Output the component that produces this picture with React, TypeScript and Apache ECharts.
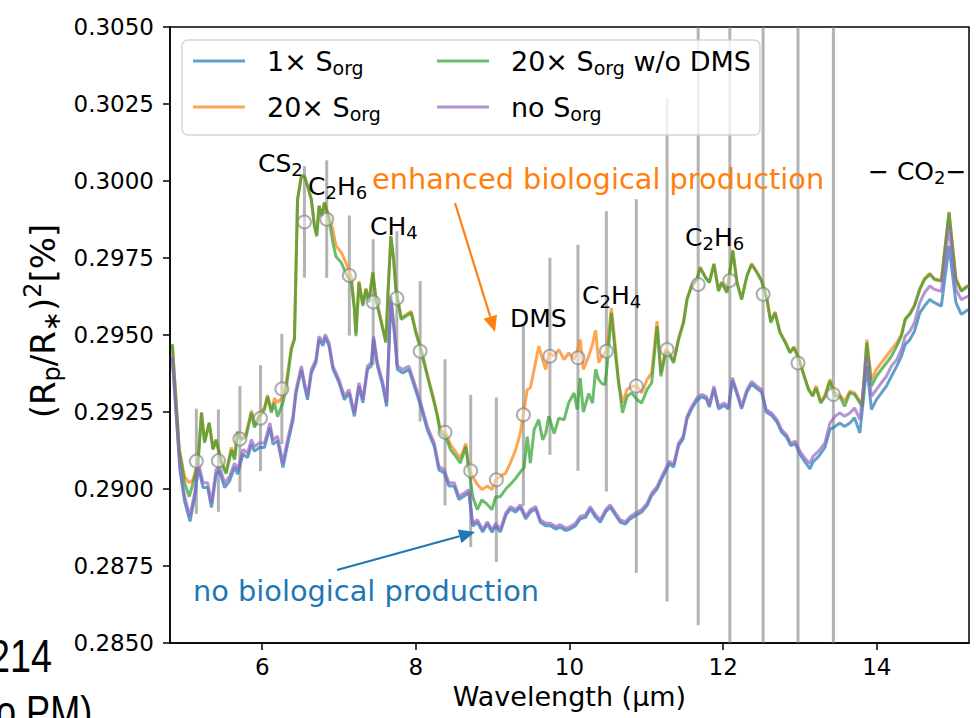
import React, { useEffect, useRef } from "react";
import * as echarts from "echarts";

// Wavelength grid shared by the 20x S_org curves (µm)
const wlEnhanced = [
  4.83, 4.92, 4.99, 5.05, 5.10, 5.165, 5.21, 5.25, 5.31, 5.36,
  5.40, 5.47, 5.53, 5.60, 5.64, 5.68, 5.73, 5.79, 5.86, 5.90,
  5.965, 6.03, 6.07, 6.12, 6.16, 6.20, 6.27, 6.31, 6.38, 6.42,
  6.46, 6.51, 6.55, 6.59, 6.64, 6.68, 6.71, 6.74, 6.78, 6.81,
  6.87, 6.92, 6.96, 7.03, 7.09, 7.16, 7.20, 7.22, 7.26, 7.31,
  7.35, 7.39, 7.44, 7.48, 7.55, 7.61, 7.64, 7.675, 7.71, 7.74,
  7.81, 7.87, 7.94, 8.00, 8.065, 8.15, 8.24, 8.28, 8.32, 8.39,
  8.45, 8.52, 8.58, 8.65, 8.69, 8.74, 8.80, 8.86, 8.93, 8.99,
  9.04, 9.10, 9.17, 9.23, 9.30, 9.36, 9.41, 9.45, 9.49, 9.54,
  9.60, 9.65, 9.69, 9.73, 9.80, 9.86, 9.93, 9.99, 10.06, 10.10,
  10.14, 10.18, 10.25, 10.30, 10.34, 10.38, 10.42, 10.46, 10.49, 10.545,
  10.60, 10.64, 10.69, 10.75, 10.81, 10.88, 10.94, 11.01, 11.07, 11.14,
  11.19, 11.25, 11.29, 11.355, 11.42, 11.485, 11.53, 11.59, 11.66, 11.70,
  11.77, 11.82, 11.88, 11.94, 11.98, 12.05, 12.125, 12.18, 12.24, 12.31,
  12.37, 12.44, 12.50, 12.57, 12.62, 12.675, 12.74, 12.81, 12.87, 12.92,
  12.98, 13.04, 13.11, 13.165, 13.21, 13.27, 13.325, 13.39, 13.455, 13.52,
  13.58, 13.65, 13.71, 13.78, 13.81, 13.87, 13.93, 13.995, 14.06, 14.125,
  14.19, 14.26, 14.32, 14.37, 14.43, 14.49, 14.56, 14.62, 14.69, 14.75,
  14.84, 14.94, 15.03, 15.10, 15.19,
];

// 20x S_org (orange)
const sorg20 = [
  0.2947, 0.2913, 0.2904, 0.2902, 0.2903, 0.2909, 0.29248, 0.29155, 0.29215, 0.2913,
  0.2916, 0.2909, 0.29055, 0.29135, 0.291, 0.29188, 0.29165, 0.29178, 0.29255, 0.29205,
  0.29245, 0.29265, 0.29305, 0.29255, 0.29295, 0.2928, 0.293, 0.2934, 0.2946, 0.2949,
  0.2994, 0.30016, 0.30016, 0.29984, 0.2994, 0.29856, 0.29825, 0.29919, 0.29886, 0.2993,
  0.29885, 0.29843, 0.2979, 0.29768, 0.29735, 0.2969, 0.2959, 0.29505, 0.29675, 0.296,
  0.29652, 0.2961, 0.29705, 0.2962, 0.29545, 0.2948, 0.2965, 0.29821, 0.29746, 0.2965,
  0.29555, 0.29566, 0.29577, 0.29512, 0.29458, 0.29372, 0.29285, 0.29242, 0.2919, 0.29182,
  0.29145, 0.2912, 0.291, 0.29148, 0.29065, 0.2904, 0.29015, 0.28998, 0.2901, 0.28998,
  0.2903, 0.29041, 0.29052, 0.29084, 0.29128, 0.29182, 0.29258, 0.29323, 0.29328, 0.29388,
  0.29464, 0.2942, 0.29388, 0.29442, 0.29431, 0.29453, 0.2942, 0.29442, 0.2942, 0.29445,
  0.29485, 0.29388, 0.29431, 0.2947, 0.29515, 0.2941, 0.29431, 0.2944, 0.29453, 0.29588,
  0.29453, 0.29345, 0.29279, 0.29323, 0.29334, 0.29334, 0.29312, 0.29355, 0.29377, 0.29545,
  0.29377, 0.29453, 0.29445, 0.29415, 0.2949, 0.29545, 0.29618, 0.29662, 0.29683, 0.29721,
  0.29688, 0.29672, 0.29732, 0.29645, 0.29672, 0.2964, 0.29776, 0.29672, 0.29618, 0.29694,
  0.29732, 0.29705, 0.29678, 0.29618, 0.29545, 0.29575, 0.2951, 0.29478, 0.29445, 0.29462,
  0.2943, 0.2938, 0.29326, 0.29304, 0.29335, 0.29283, 0.29305, 0.29356, 0.29312, 0.29305,
  0.29285, 0.29318, 0.29312, 0.29285, 0.2928, 0.29485, 0.29355, 0.29388, 0.2941, 0.29431,
  0.29453, 0.29475, 0.29502, 0.29553, 0.2957, 0.29597, 0.29651, 0.29683, 0.297, 0.29683,
  0.29678, 0.299, 0.29683, 0.29645, 0.29662,
];

// 20x S_org w/o DMS (green)
const sorg20NoDms = [
  0.2947, 0.29128, 0.2902, 0.28975, 0.2902, 0.29085, 0.29248, 0.2915, 0.29215, 0.29128,
  0.2916, 0.29085, 0.2905, 0.29128, 0.29095, 0.29183, 0.2916, 0.2917, 0.29248, 0.292,
  0.29235, 0.29258, 0.293, 0.29248, 0.2928, 0.29235, 0.2928, 0.29323, 0.29453, 0.29485,
  0.2994, 0.30016, 0.30016, 0.29984, 0.2994, 0.29854, 0.2982, 0.29919, 0.29886, 0.2993,
  0.29876, 0.298, 0.29755, 0.29735, 0.297, 0.2967, 0.29583, 0.29496, 0.2967, 0.29594,
  0.29648, 0.29605, 0.29702, 0.29615, 0.2954, 0.29475, 0.29648, 0.29821, 0.29746, 0.29648,
  0.2955, 0.29561, 0.29572, 0.29507, 0.29453, 0.29366, 0.29279, 0.29236, 0.29182, 0.2917,
  0.29128, 0.29106, 0.29084, 0.29138, 0.29063, 0.28976, 0.28933, 0.28965, 0.2895, 0.28933,
  0.28975, 0.28975, 0.29, 0.29015, 0.29035, 0.29055, 0.2907, 0.2917, 0.29084, 0.29193,
  0.29225, 0.2916, 0.2918, 0.29236, 0.2918, 0.2923, 0.29225, 0.2928, 0.29312, 0.29258,
  0.2936, 0.2925, 0.2931, 0.29279, 0.29388, 0.29355, 0.29343, 0.29339, 0.294, 0.29572,
  0.29431, 0.29345, 0.29247, 0.29301, 0.29312, 0.2929, 0.29279, 0.29323, 0.29345, 0.29529,
  0.29366, 0.29442, 0.29442, 0.29409, 0.29485, 0.2954, 0.29615, 0.29659, 0.2968, 0.29718,
  0.29686, 0.2967, 0.29729, 0.29642, 0.2967, 0.29637, 0.29773, 0.2967, 0.29615, 0.29691,
  0.29729, 0.29702, 0.29675, 0.29615, 0.2954, 0.29572, 0.29507, 0.29475, 0.29442, 0.29458,
  0.29426, 0.29377, 0.29323, 0.29301, 0.29328, 0.29279, 0.29298, 0.2935, 0.29301, 0.29301,
  0.29268, 0.29312, 0.29307, 0.29279, 0.29268, 0.29475, 0.29334, 0.29366, 0.29388, 0.29409,
  0.29431, 0.29464, 0.29496, 0.2955, 0.29567, 0.29594, 0.29648, 0.2968, 0.29697, 0.2968,
  0.29675, 0.29897, 0.2968, 0.29642, 0.29659,
];

// Wavelength grid shared by the no-biology curves (µm)
const wlBaseline = [
  4.83, 4.93, 4.99, 5.06, 5.12, 5.17, 5.23, 5.29, 5.34, 5.40,
  5.445, 5.51, 5.575, 5.64, 5.68, 5.75, 5.81, 5.86, 5.90, 5.965,
  6.03, 6.10, 6.14, 6.20, 6.27, 6.33, 6.40, 6.44, 6.51, 6.55,
  6.59, 6.64, 6.70, 6.74, 6.79, 6.82, 6.87, 6.92, 7.00, 7.07,
  7.13, 7.20, 7.26, 7.31, 7.37, 7.42, 7.45, 7.50, 7.57, 7.62,
  7.675, 7.72, 7.76, 7.83, 7.91, 7.98, 8.065, 8.15, 8.24, 8.30,
  8.37, 8.43, 8.50, 8.56, 8.63, 8.69, 8.74, 8.80, 8.87, 8.93,
  8.99, 9.04, 9.10, 9.17, 9.23, 9.30, 9.36, 9.43, 9.49, 9.56,
  9.62, 9.69, 9.75, 9.82, 9.88, 9.95, 10.01, 10.08, 10.14, 10.21,
  10.27, 10.34, 10.40, 10.47, 10.53, 10.60, 10.66, 10.73, 10.79, 10.86,
  10.94, 11.01, 11.07, 11.14, 11.20, 11.25, 11.30, 11.355, 11.42, 11.48,
  11.53, 11.59, 11.66, 11.72, 11.78, 11.82, 11.88, 11.94, 12.01, 12.07,
  12.12, 12.185, 12.24, 12.31, 12.37, 12.44, 12.50, 12.56, 12.63, 12.70,
  12.76, 12.825, 12.88, 12.94, 13.00, 13.065, 13.13, 13.17, 13.24, 13.325,
  13.39, 13.455, 13.52, 13.58, 13.65, 13.71, 13.78, 13.87, 13.93, 13.995,
  14.06, 14.125, 14.19, 14.26, 14.32, 14.37, 14.43, 14.49, 14.56, 14.62,
  14.69, 14.75, 14.84, 14.94, 15.03, 15.10, 15.19,
];

// 1x S_org (blue)
const sorg1 = [
  0.29425, 0.2906, 0.2896, 0.28895, 0.28972, 0.2907, 0.29005, 0.29005, 0.2894, 0.29048,
  0.29058, 0.29005, 0.29026, 0.2907, 0.29048, 0.29113, 0.29102, 0.29145, 0.29123, 0.29135,
  0.29135, 0.292, 0.29145, 0.29157, 0.2907, 0.29145, 0.29222, 0.2931, 0.29388, 0.29334,
  0.2929, 0.29377, 0.2941, 0.29486, 0.29465, 0.29492, 0.29465, 0.2939, 0.29345, 0.2929,
  0.29312, 0.29236, 0.29334, 0.2928, 0.29388, 0.294, 0.29486, 0.294, 0.29334, 0.29268,
  0.29616, 0.29508, 0.29388, 0.29377, 0.29388, 0.29334, 0.29268, 0.29192, 0.29138, 0.29062,
  0.29052, 0.2901, 0.2901, 0.28966, 0.28977, 0.28988, 0.2888, 0.28892, 0.2886, 0.28886,
  0.2886, 0.2888, 0.2886, 0.28914, 0.28935, 0.28925, 0.28941, 0.28903, 0.28925, 0.28935,
  0.28892, 0.28881, 0.28881, 0.2887, 0.28876, 0.28865, 0.2887, 0.28881, 0.28903, 0.28908,
  0.28935, 0.28908, 0.28892, 0.28925, 0.28941, 0.28914, 0.28892, 0.28886, 0.28903, 0.28914,
  0.28925, 0.28946, 0.28979, 0.29, 0.29033, 0.29057, 0.29082, 0.29071, 0.29141, 0.29163,
  0.29228, 0.2926, 0.29288, 0.29299, 0.29293, 0.29266, 0.29326, 0.2926, 0.29271, 0.2926,
  0.29353, 0.29304, 0.2926, 0.29315, 0.29341, 0.29326, 0.29315, 0.2925, 0.29239, 0.29217,
  0.29185, 0.29168, 0.29141, 0.29147, 0.29112, 0.29088, 0.29065, 0.29088, 0.29105, 0.29135,
  0.29193, 0.29203, 0.29214, 0.29203, 0.29214, 0.29231, 0.29182, 0.29399, 0.29258, 0.2929,
  0.29312, 0.29334, 0.29366, 0.29399, 0.29431, 0.29469, 0.29485, 0.29512, 0.29572, 0.29594,
  0.29615, 0.29605, 0.29594, 0.29789, 0.29605, 0.29567, 0.29583,
];

// no S_org (purple)
const noSorg = [
  0.29431, 0.29073, 0.28976, 0.28911, 0.28987, 0.29084, 0.2902, 0.2902, 0.28954, 0.29063,
  0.29073, 0.2902, 0.29041, 0.29084, 0.29063, 0.29128, 0.29117, 0.2916, 0.29138, 0.29149,
  0.29149, 0.29214, 0.2916, 0.29171, 0.29084, 0.2916, 0.29236, 0.29323, 0.29399, 0.29345,
  0.29301, 0.29388, 0.2942, 0.29496, 0.29475, 0.29502, 0.29475, 0.294, 0.29355, 0.29301,
  0.29323, 0.29247, 0.29345, 0.2929, 0.29399, 0.2941, 0.29496, 0.2941, 0.29345, 0.29279,
  0.29626, 0.29518, 0.29399, 0.29388, 0.29399, 0.29345, 0.29279, 0.29203, 0.29149, 0.29073,
  0.29063, 0.2902, 0.2902, 0.28976, 0.28987, 0.28998, 0.28889, 0.289, 0.28868, 0.28894,
  0.28868, 0.28889, 0.28868, 0.28922, 0.28943, 0.28933, 0.28949, 0.28911, 0.28933, 0.28943,
  0.289, 0.28889, 0.28889, 0.28878, 0.28884, 0.28873, 0.28878, 0.28889, 0.28911, 0.28916,
  0.28943, 0.28916, 0.289, 0.28933, 0.28949, 0.28922, 0.289, 0.28894, 0.28911, 0.28922,
  0.28933, 0.28954, 0.28987, 0.29008, 0.29041, 0.29065, 0.2909, 0.29079, 0.29149, 0.29171,
  0.29236, 0.29268, 0.29296, 0.29307, 0.29301, 0.29274, 0.29334, 0.29268, 0.29279, 0.29268,
  0.29361, 0.29312, 0.29268, 0.29323, 0.29349, 0.29334, 0.29323, 0.29258, 0.29247, 0.29225,
  0.29193, 0.29176, 0.29149, 0.29155, 0.29122, 0.291, 0.29083, 0.29106, 0.29122, 0.2915,
  0.29214, 0.29236, 0.29247, 0.29236, 0.29247, 0.29263, 0.29225, 0.29431, 0.29301, 0.29323,
  0.29345, 0.29366, 0.29399, 0.2942, 0.29453, 0.29496, 0.29512, 0.2954, 0.29605, 0.29637,
  0.29659, 0.29648, 0.29642, 0.29854, 0.29648, 0.29615, 0.29626,
];

// Binned observations with error bars
const binWavelength = [
  5.143, 5.43, 5.71, 5.978, 6.256, 6.55, 6.84, 7.134, 7.445, 7.753,
  8.056, 8.38, 8.714, 9.048, 9.40, 9.745, 10.11, 10.48, 10.87, 11.27,
  11.675, 12.087, 12.52, 12.974, 13.435,
];
const binDepth = [
  0.2909, 0.29092, 0.29162, 0.2923, 0.29325, 0.29867, 0.29876, 0.29693, 0.29607, 0.29619,
  0.29447, 0.29184, 0.29059, 0.2903, 0.29241, 0.29431, 0.29426, 0.29447, 0.29334, 0.29453,
  0.29664, 0.29677, 0.29632, 0.29409, 0.29307,
];
const binError = [
  0.00171, 0.00166, 0.00172, 0.00172, 0.00179, 0.00181, 0.00191, 0.00195, 0.00204, 0.00218,
  0.00228, 0.00237, 0.00247, 0.00267, 0.00296, 0.0032, 0.00367, 0.00455, 0.00607, 0.00818,
  0.01106, 0.014, 0.015, 0.016, 0.017,
];

const xTicks = [6, 8, 10, 12, 14];
const X_MIN = 4.8;
const X_MAX = 15.2;
const Y_MIN = 0.285;
const Y_MAX = 0.305;

const FONT = "'DejaVu Sans', sans-serif";
const C_BLUE = "rgba(31,119,180,0.7)";
const C_ORANGE = "rgba(255,127,14,0.7)";
const C_GREEN = "rgba(44,160,44,0.7)";
const C_PURPLE = "rgba(148,103,189,0.7)";

const zip = (xs: number[], ys: number[]) => xs.map((x, i) => [x, ys[i]]);

const legendNames: Record<string, string> = {
  s1: "{n|1× S}{s|org}",
  s20: "{n|20× S}{s|org}",
  s20n: "{n|20× S}{s|org}{n| w/o DMS}",
  s0: "{n|no S}{s|org}",
};

const legendRich = {
  n: { fontSize: 27, fontFamily: FONT, color: "#000", lineHeight: 30 },
  s: { fontSize: 19, fontFamily: FONT, color: "#000", lineHeight: 19, padding: [13, 0, 0, 0] },
};

const fRich = (size: number) => ({
  n: { fontSize: size, fontFamily: FONT, color: "#000", lineHeight: size + 4 },
  s: { fontSize: Math.round(size * 0.7), fontFamily: FONT, color: "#000", lineHeight: Math.round(size * 0.7), padding: [Math.round(size * 0.5), 0, 0, 0] },
  p: { fontSize: Math.round(size * 0.7), fontFamily: FONT, color: "#000", lineHeight: Math.round(size * 0.7), padding: [0, 0, Math.round(size * 0.6), 0] },
});

function arrow(x1: number, y1: number, x2: number, y2: number, color: string) {
  const dx = x2 - x1, dy = y2 - y1;
  const len = Math.sqrt(dx * dx + dy * dy);
  const ux = dx / len, uy = dy / len;
  const hl = 16, hw = 7;
  const bx = x2 - ux * hl, by = y2 - uy * hl;
  return [
    { type: "line", z: 7, shape: { x1, y1, x2: bx, y2: by }, style: { stroke: color, lineWidth: 2.2 } },
    {
      type: "polygon", z: 7,
      shape: { points: [[x2, y2], [bx - uy * hw, by + ux * hw], [bx + uy * hw, by - ux * hw]] },
      style: { fill: color },
    },
  ];
}

function label(x: number, y: number, text: string, size: number) {
  return {
    type: "text", z: 7, x, y,
    style: { text, rich: fRich(size), fill: "#000", font: `${size}px ${FONT}`, verticalAlign: "middle", align: "left" },
  };
}

export default function App() {
  const ref = useRef<HTMLDivElement>(null);
  useEffect(() => {
    const chart = echarts.init(ref.current!, null, { renderer: "svg" });
    const lineSeries = (name: string, wl: number[], vals: number[], color: string) => ({
      name, type: "line", data: zip(wl, vals), showSymbol: false, symbol: "none",
      lineStyle: { width: 3, color }, itemStyle: { color }, z: 3, clip: true,
    });
    const option: any = {
      animation: false,
      grid: { left: 170, top: 27, width: 799, height: 616, show: true, borderColor: "#000", borderWidth: 1.5, backgroundColor: "transparent" },
      xAxis: {
        type: "value", min: X_MIN, max: X_MAX,
        axisLine: { show: true, onZero: false, lineStyle: { color: "#000", width: 1.5 } },
        axisTick: { show: true, length: 7, lineStyle: { color: "#000", width: 1.5 }, customValues: xTicks },
        axisLabel: { fontSize: 23, fontFamily: FONT, color: "#000", margin: 12, customValues: xTicks },
        splitLine: { show: false },
        name: "Wavelength (µm)", nameLocation: "middle", nameGap: 34,
        nameTextStyle: { fontSize: 27, fontFamily: FONT, color: "#000" },
      },
      yAxis: {
        type: "value", min: Y_MIN, max: Y_MAX, interval: 0.0025,
        axisLine: { show: true, onZero: false, lineStyle: { color: "#000", width: 1.5 } },
        axisTick: { show: true, length: 7, lineStyle: { color: "#000", width: 1.5 } },
        axisLabel: { fontSize: 23, fontFamily: FONT, color: "#000", margin: 16, formatter: (v: number) => v.toFixed(4) },
        splitLine: { show: false },
      },
      legend: [
        {
          orient: "vertical", left: 193, top: 45, padding: 0, itemGap: 14, itemWidth: 52, itemHeight: 3, icon: "rect", z: 8,
          data: ["s1", "s20"], formatter: (n: string) => legendNames[n],
          textStyle: { fontSize: 27, fontFamily: FONT, color: "#000", rich: legendRich, padding: [0, 0, 0, 17] },
        },
        {
          orient: "vertical", left: 437, top: 45, padding: 0, itemGap: 14, itemWidth: 52, itemHeight: 3, icon: "rect", z: 8,
          data: ["s20n", "s0"], formatter: (n: string) => legendNames[n],
          textStyle: { fontSize: 27, fontFamily: FONT, color: "#000", rich: legendRich, padding: [0, 0, 0, 17] },
        },
      ],
      series: [
        {
          type: "custom", name: "bins-err", z: 1, silent: true,
          data: binWavelength.map((w, i) => [w, binDepth[i], binError[i]]),
          renderItem: (params: any, api: any) => {
            const x = api.value(0), y = api.value(1), e = api.value(2);
            const top = api.coord([x, Math.min(y + e, Y_MAX)]);
            const bot = api.coord([x, Math.max(y - e, Y_MIN)]);
            return { type: "line", shape: { x1: top[0], y1: top[1], x2: bot[0], y2: bot[1] }, style: { stroke: "rgba(128,128,128,0.6)", lineWidth: 3 } };
          },
        },
        lineSeries("s1", wlBaseline, sorg1, C_BLUE),
        lineSeries("s20", wlEnhanced, sorg20, C_ORANGE),
        lineSeries("s20n", wlEnhanced, sorg20NoDms, C_GREEN),
        lineSeries("s0", wlBaseline, noSorg, C_PURPLE),
        {
          type: "scatter", name: "bins", z: 4, silent: true,
          data: zip(binWavelength, binDepth), symbol: "circle", symbolSize: 13,
          itemStyle: { color: "rgba(255,255,255,0.55)", borderColor: "rgba(128,128,128,0.8)", borderWidth: 2 },
        },
      ],
      graphic: [
        {
          type: "rect", z: 6, shape: { x: 182, y: 40, width: 578, height: 95, r: 6 },
          style: { fill: "rgba(255,255,255,0.8)", stroke: "rgba(204,204,204,0.8)", lineWidth: 1.5 },
        },
        label(258, 163, "{n|CS}{s|2}", 25),
        label(308, 186, "{n|C}{s|2}{n|H}{s|6}", 25),
        label(370, 226, "{n|CH}{s|4}", 25),
        label(510, 318, "{n|DMS}", 25),
        label(582, 295, "{n|C}{s|2}{n|H}{s|4}", 25),
        label(685, 237, "{n|C}{s|2}{n|H}{s|6}", 25),
        label(868, 171, "{n|− CO}{s|2}{n|−}", 25),
        {
          type: "text", z: 7, x: 372, y: 179,
          style: { text: "enhanced biological production", font: `28.8px ${FONT}`, fill: "#ff7f0e", verticalAlign: "middle" },
        },
        {
          type: "text", z: 7, x: 193, y: 591,
          style: { text: "no biological production", font: `28.8px ${FONT}`, fill: "#1f77b4", verticalAlign: "middle" },
        },
        ...arrow(455, 203, 495, 332, "#ff7f0e"),
        ...arrow(337, 570, 475, 532, "#1f77b4"),
        {
          type: "text", z: 7, x: 43, y: 321, rotation: Math.PI / 2,
          style: {
            text: "{n|(R}{s|p}{n|/R}{s|∗}{n|)}{p|2}{n|[%]}", rich: fRich(34),
            align: "center", verticalAlign: "middle",
          },
        },
        {
          type: "text", z: 7, x: 52, y: 656, scaleX: 0.82,
          style: { text: "214", font: `46px 'Liberation Sans', sans-serif`, fill: "#000", align: "right", verticalAlign: "middle" },
        },
        {
          type: "text", z: 7, x: -4, y: 712, scaleX: 0.82,
          style: { text: "o PM)", font: `44px 'Liberation Sans', sans-serif`, fill: "#000", align: "left", verticalAlign: "middle" },
        },
      ],
    };
    chart.setOption(option);
    return () => chart.dispose();
  }, []);
  return <div ref={ref} style={{ position: "absolute", left: 0, top: 0, width: 976, height: 718 }} />;
}
